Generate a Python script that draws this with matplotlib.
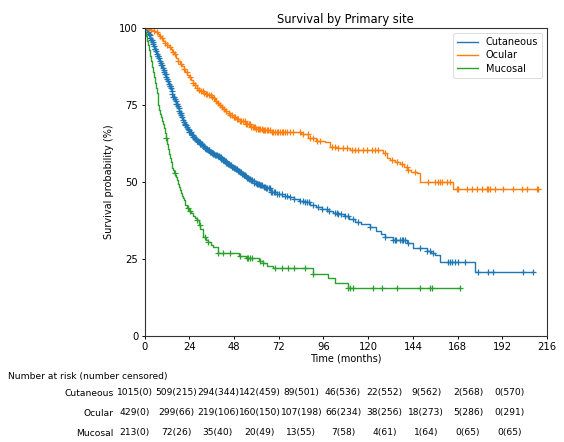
import numpy as np
import matplotlib
matplotlib.use("Agg")
import matplotlib.pyplot as plt

# ---------------- data ----------------
groups = ["Cutaneous", "Ocular", "Mucosal"]

cut_t = [0, 0.5, 1, 1.5, 2, 2.5, 3, 3.5, 4, 4.5, 5, 5.5, 6, 6.5, 7, 7.5, 8, 8.5, 9, 9.5, 10,
         10.5, 11, 11.5, 12, 12.5, 13, 13.5, 14, 14.5, 15, 15.5, 16, 16.5, 17, 17.5, 18, 18.5,
         19, 19.5, 20, 20.5, 21, 21.5, 22, 22.5, 23, 23.5, 24, 25, 26, 27, 28, 29, 30, 31, 32,
         33, 34, 35, 36, 37, 38, 39, 40, 41, 42, 43, 44, 45, 46, 47, 48, 49, 50, 51, 52, 53, 54,
         55, 56, 57, 58, 59, 60, 62, 63.5, 65, 68, 71, 74, 77, 80, 83, 86, 89, 92, 95, 98, 101,
         104, 107, 110, 113, 116, 121, 124, 127, 129, 133.6, 140.7, 144.3, 151.5, 154, 156,
         158.6, 177.4, 208.7]
cut_s = [100, 99.7, 99.3, 98.8, 98.3, 97.7, 97, 96.3, 95.6, 94.9, 94.2, 93.4, 92.6, 91.8, 91,
         90.2, 89.5, 88.7, 88, 87.2, 86.5, 85.7, 85, 84.2, 83.5, 82.7, 82, 81.2, 80.5, 79.5,
         78.5, 77.7, 77, 76.2, 75.5, 74.7, 74, 73.2, 72.5, 71.7, 71, 70.3, 69.6, 69, 68.5, 68,
         67.4, 66.8, 66.2, 65.3, 64.5, 63.9, 63.4, 63, 62.5, 61.8, 61.2, 60.7, 60.3, 59.9, 59.5,
         59.1, 58.7, 58.3, 58, 57.6, 57.2, 56.7, 56.3, 55.8, 55.4, 55, 54.6, 54.1, 53.6, 53.1,
         52.7, 52.2, 51.8, 51.4, 51, 50.6, 50.2, 49.8, 49.5, 48.9, 48.4, 47.9, 46.8, 46.2, 45.6,
         45, 44.4, 43.9, 43.4, 42.6, 41.8, 41.2, 40.6, 40, 39.6, 38.8, 38, 37, 36.3, 35.4, 34.2,
         33, 32.2, 31.1, 30.2, 28.4, 27.6, 26.8, 26.3, 24.1, 20.8, 20.8]
cut_cens = [1.8, 2.2, 2.7, 3.1, 3.5, 3.9, 4.3, 4.6, 5.0, 5.5, 5.9, 6.3, 6.6, 7.0, 7.4, 7.8, 8.2,
            8.7, 9.0, 9.4, 9.8, 10.2, 10.7, 11.1, 11.4, 11.8, 12.2, 12.6, 13.1, 13.5, 13.9, 14.3,
            14.6, 15.0, 15.5, 15.9, 16.3, 16.7, 17.0, 17.4, 17.9, 18.3, 18.7, 19.1, 19.4, 19.8,
            20.3, 20.7, 21.1, 21.5, 22.0, 22.4, 22.8, 23.2, 23.7, 24.1, 24.5, 24.9, 25.4, 25.8,
            26.2, 26.6, 27.1, 27.5, 27.9, 28.3, 28.8, 29.2, 29.6, 30.0, 30.5, 30.9, 31.4, 31.8,
            32.2, 32.6, 33.1, 33.5, 34.0, 34.4, 34.8, 35.3, 35.7, 36.1, 36.6, 37.0, 37.5, 38.0,
            38.4, 38.9, 39.3, 39.8, 40.3, 40.8, 41.2, 41.7, 42.2, 42.6, 43.1, 43.6, 44.0, 44.5,
            45.0, 45.5, 46.1, 46.6, 47.1, 47.6, 48.0, 48.5, 49.1, 49.6, 50.2, 50.7, 51.3, 51.8,
            52.3, 52.8, 53.4, 53.9, 54.5, 55.0, 55.6, 56.2, 56.7, 57.3, 57.9, 58.5, 59.0, 59.6,
            60.2, 60.8, 61.5, 62.1, 62.7, 63.3, 64.0, 64.6, 65.3, 65.9, 66.6, 67.3, 68.0, 68.6,
            69.3, 70.0, 71, 72.2, 73.6, 75.4, 76.5, 78.1, 80.2, 83.5, 85.2, 86.3, 87.1, 88.4,
            90.6, 93.3, 95.1, 97.8, 99.0, 102.3, 103.2, 104, 105.2, 107.6, 109.4, 111.8, 114.8,
            121.1, 129.1, 133.6, 134.5, 135.2, 137.1, 138.1, 138.9, 139.8, 141.6, 147.9, 151.5,
            153.3, 155, 163.1, 164, 164.9, 166.7, 168.4, 172, 179.2, 184.5, 186.9, 203.3, 208.7]

ocu_t = [0, 1, 2, 3, 4, 5, 6, 7, 8, 9, 10, 11, 12, 13, 14, 15, 16, 17, 18, 19, 20, 21, 22, 23,
         24, 25, 26, 27, 28, 29, 30, 31.5, 33, 34.5, 36, 37, 38, 39, 40, 41, 42, 43, 44, 45.5,
         47, 49, 51, 54, 57, 60, 63, 67.4, 80, 84, 88, 92, 97, 99.6, 104, 110.5, 128, 130, 132,
         134.5, 137, 139, 141, 143, 146, 147.9, 165.8, 211.4]
ocu_s = [100, 99.8, 99.7, 99.6, 99.5, 99.2, 98.8, 98.2, 97.5, 96.8, 96, 95.3, 94.6, 93.9, 93.2,
         92.4, 91.5, 90.5, 89.5, 88.5, 87.6, 86.7, 85.8, 84.9, 84, 83.2, 82.3, 81.4, 80.5, 80,
         79.6, 79.1, 78.7, 78.2, 77.8, 77.2, 76.5, 75.7, 75, 74.3, 73.6, 73, 72.3, 71.8, 71.2,
         70.6, 70, 69, 68, 67.2, 66.8, 66.4, 66.2, 65.5, 64.2, 63.5, 63, 61.5, 61, 60.4, 59.3,
         57.7, 57, 56.5, 56, 55, 53.9, 53.3, 52.8, 50.1, 47.6, 47.6]
ocu_cens = [3.5, 5.1, 6.8, 8.2, 9.5, 11.0, 12.3, 13.8, 15.2, 16.6, 18.0, 19.6, 21.4, 22.9, 24.6,
            26.0, 27.3, 28.4, 29.5, 30.4, 31.2, 32.1, 33.0, 33.8, 34.6, 35.5, 36.4, 37.3, 38.2,
            39.3, 40.5, 41.6, 42.8, 43.9, 45.1, 46.0, 46.9, 47.8, 48.6, 49.4, 50.2, 51.1, 52.0,
            52.8, 53.7, 54.5, 55.2, 55.9, 56.6, 57.3, 58.0, 58.7, 59.4, 60.0, 60.7, 61.4, 62.1,
            62.8, 63.5, 64.1, 64.8, 65.5, 66.2, 67.3, 68.3, 69.1, 70, 70.9, 71.8, 72.7, 73.6,
            74.5, 75.4, 76.7, 78.1, 79.9, 83.5, 85.2, 87.9, 88.8, 90.6, 92.4, 94.2, 100.5, 102.3,
            104, 106.7, 108.5, 111.2, 113, 114.8, 117.5, 119.3, 122, 123.7, 125.5, 129.1, 132.7,
            135.4, 138.1, 140.7, 141.6, 145.2, 152.3, 155.9, 157.7, 158.6, 159.5, 162.2, 164,
            167.6, 168.4, 172.9, 175.6, 178.3, 181, 183.7, 184.5, 185.4, 188.1, 192.6, 198, 202.5,
            205.2, 210.5, 211.4]

muc_t = [0, 0.5, 1, 1.5, 2, 2.5, 3, 3.5, 4, 4.5, 5, 5.5, 6, 6.5, 7, 7.5, 8, 8.5, 9, 9.5, 10,
         10.5, 11, 11.5, 12, 12.5, 13, 13.5, 14, 14.5, 15, 15.5, 16, 16.5, 17, 17.5, 18, 18.5,
         19, 19.5, 20, 20.5, 21, 21.5, 22, 23, 24, 25, 26, 27, 28, 29, 30, 31.5, 33, 34, 35.5,
         37, 39.5, 50.5, 54.5, 61.7, 63.5, 66, 69, 90.6, 98.7, 102.3, 109, 169.4]
muc_s = [100, 98.8, 97.5, 96, 94.5, 92.8, 91, 89.3, 87.5, 85.8, 84, 82.2, 80.5, 78.8, 77, 75.2,
         73.5, 72.2, 71, 70, 69, 67.5, 66, 64.2, 62.5, 60.7, 59, 57.7, 56.5, 55.5, 54.5, 53.8,
         53, 52.2, 51.5, 50.5, 49.5, 48.5, 47.5, 46.5, 45.5, 44.7, 44, 43.2, 42.5, 41.5, 40.5,
         39.8, 39, 38.2, 37.5, 36, 34.7, 32, 31.2, 30.5, 29.6, 28.8, 26.9, 26, 25.2, 24.4, 23.6,
         22.6, 21.9, 20.1, 18.7, 17.2, 15.6, 15.6]
muc_cens = [11.5, 16.2, 23.5, 24.4, 28, 29.8, 32.5, 34.2, 39.6, 42.3, 45.9, 51.3, 54.9, 55.7,
            56.6, 57.5, 62, 63.7, 70, 73.6, 77.2, 80, 86.2, 90.6, 109.4, 110.3, 112.1, 122.8,
            127.3, 135.4, 147.9, 153.3, 154.2, 169.4]

table_times = [0, 24, 48, 72, 96, 120, 144, 168, 192, 216]
cut_risk = [1015, 509, 294, 142, 89, 46, 22, 9, 2, 0]
cut_cen = [0, 215, 344, 459, 501, 536, 552, 562, 568, 570]
ocu_risk = [429, 299, 219, 160, 107, 66, 38, 18, 5, 0]
ocu_cen = [0, 66, 106, 150, 198, 234, 256, 273, 286, 291]
muc_risk = [213, 72, 35, 20, 13, 7, 4, 1, 0, 0]
muc_cen = [0, 26, 40, 49, 55, 58, 61, 64, 65, 65]

yticks = [0, 25, 50, 75, 100]

# ---------------- figure ----------------
W, H = 564, 442
fig = plt.figure(figsize=(W / 100, H / 100), dpi=100)
ax = fig.add_axes([144.5 / W, 1 - 335.7 / H, (547 - 144.5) / W, (335.7 - 28.3) / H])

colors = ["#1f77b4", "#ff7f0e", "#2ca02c"]
series = [(cut_t, cut_s, cut_cens), (ocu_t, ocu_s, ocu_cens), (muc_t, muc_s, muc_cens)]

for (t, s, cens), c, name in zip(series, colors, groups):
    t = np.asarray(t, float)
    s = np.asarray(s, float)
    ax.plot(t, s, drawstyle="steps-post", color=c, lw=1.0, label=name)
    cens = np.asarray(cens, float)
    idx = np.searchsorted(t, cens, side="right") - 1
    idx = np.clip(idx, 0, len(s) - 1)
    ax.plot(cens, s[idx], linestyle="none", marker="+", ms=5, mew=0.9, color=c)

ax.set_xlim(0, 216)
ax.set_ylim(0, 100)
ax.set_xticks(table_times)
ax.set_yticks(yticks)
ax.tick_params(labelsize=7.2, length=2.5, width=0.7, pad=2)
for sp in ax.spines.values():
    sp.set_linewidth(0.8)
    sp.set_color("#333333")
ax.set_title("Survival by Primary site", fontsize=8.3, pad=4)
ax.set_xlabel("Time (months)", fontsize=7, labelpad=1)
ax.set_ylabel("Survival probability (%)", fontsize=7, labelpad=4)
leg = ax.legend(loc="upper right", fontsize=7, frameon=True, handlelength=2.2,
                borderpad=0.4, labelspacing=0.35, handletextpad=0.8, borderaxespad=0.5)
leg.get_frame().set_linewidth(0.6)

# ---------------- number at risk table ----------------
fs = 6.6
fig.text(8 / W, 1 - 376 / H, "Number at risk (number censored)", fontsize=fs,
         ha="left", va="center")
col_x = np.linspace(134.5, 509.8, len(table_times))
rows = [(cut_risk, cut_cen), (ocu_risk, ocu_cen), (muc_risk, muc_cen)]
row_y = [393, 413, 433]
for name, (risk, cen), y in zip(groups, rows, row_y):
    fig.text(113.5 / W, 1 - y / H, name, fontsize=fs, ha="right", va="center")
    for x, r, c in zip(col_x, risk, cen):
        fig.text(x / W, 1 - y / H, f"{r}({c})", fontsize=fs, ha="center", va="center")

fig.savefig("out.png", dpi=100)
